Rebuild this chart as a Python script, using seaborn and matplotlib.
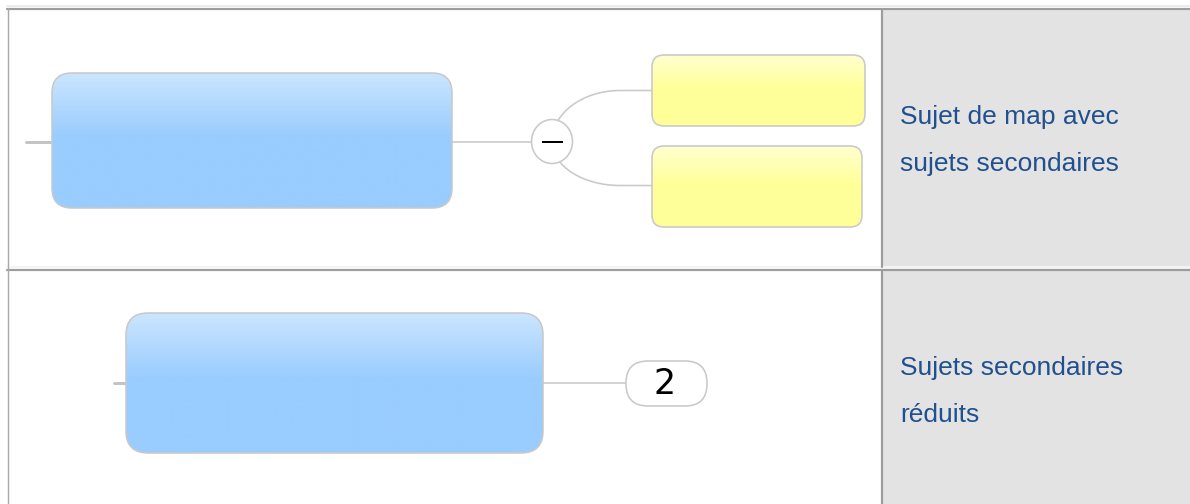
"""
Mind map legend: topic with sub-topics / collapsed sub-topics
"""

import numpy as np
import matplotlib
matplotlib.use("Agg")
import matplotlib.pyplot as plt
from matplotlib.patches import FancyBboxPatch, Ellipse, PathPatch
from matplotlib.path import Path
from matplotlib.colors import to_rgb
import seaborn as sns

# ---------------------------------------------------
# Content
# ---------------------------------------------------

row_labels = [
    ["Sujet de map avec", "sujets secondaires"],
    ["Sujets secondaires", "réduits"],
]

collapsed_count = "2"

# main topics (x0, y0, x1, y1, radius) in pixels
main_topics = [
    (52, 73, 452, 208, 20),
    (126, 313, 543, 453, 22),
]

# sub topics of the first row
sub_topics = [
    (652, 55, 865, 126, 12),
    (652, 146, 862, 227, 12),
]

# ---------------------------------------------------
# Style
# ---------------------------------------------------

W, H = 1190, 504
PX = 0.72  # one pixel in points at dpi 100

blue_top, blue_mid = "#cbe5fe", "#99ccff"
yellow_top, yellow_mid = "#ffffcf", "#ffff99"
edge_col = "#c9c9c9"
line_col = "#c9c9c9"
cell_grey = "#e3e3e3"
border_dark = "#9d9d9d"
border_light = "#ebebeb"
text_col = "#21508f"

sns.set_theme(style="white")
plt.rcParams["font.family"] = ["Liberation Sans", "DejaVu Sans"]

fig = plt.figure(figsize=(W / 100, H / 100), dpi=100)
ax = fig.add_axes([0, 0, 1, 1])
ax.set_xlim(0, W)
ax.set_ylim(H, 0)
ax.axis("off")


def gradient_box(x0, y0, x1, y1, r, top, mid, z=3):
    patch = FancyBboxPatch(
        (x0, y0), x1 - x0, y1 - y0,
        boxstyle=f"round,pad=0,rounding_size={r}",
        facecolor="none", edgecolor=edge_col,
        linewidth=1.6 * PX, zorder=z + 1
    )
    ax.add_patch(patch)
    n = 200
    t = np.clip(np.linspace(0, 1, n) / 0.47, 0, 1)[:, None]
    c0 = np.array(to_rgb(top))
    c1 = np.array(to_rgb(mid))
    img = (c0 * (1 - t) + c1 * t)[:, None, :]
    im = ax.imshow(
        img, extent=(x0, x1, y1, y0), origin="upper",
        aspect="auto", interpolation="bilinear", zorder=z
    )
    clip = FancyBboxPatch(
        (x0, y0), x1 - x0, y1 - y0,
        boxstyle=f"round,pad=0,rounding_size={r}",
        facecolor="none", edgecolor="none", transform=ax.transData
    )
    ax.add_patch(clip)
    im.set_clip_path(clip)


# ---------------------------------------------------
# Table
# ---------------------------------------------------

ax.add_patch(plt.Rectangle((883, 9), W - 883, 258, color=cell_grey, zorder=0))
ax.add_patch(plt.Rectangle((883, 270), W - 883, H - 270, color=cell_grey, zorder=0))

ax.plot([7, W], [6, 6], color=border_light, lw=2 * PX, zorder=1)
ax.plot([7, W], [9, 9], color=border_dark, lw=2.2 * PX, zorder=1)
ax.plot([7, W], [266.5, 266.5], color="#f4f4f4", lw=2 * PX, zorder=1)
ax.plot([7, W], [269.5, 269.5], color=border_dark, lw=2.2 * PX, zorder=1)
ax.plot([8, 8], [8, H], color="#a9a9a9", lw=1.4 * PX, zorder=1)
ax.plot([882, 882], [9, 267], color=border_dark, lw=2.2 * PX, zorder=1)
ax.plot([882, 882], [270, H], color=border_dark, lw=2.2 * PX, zorder=1)

# ---------------------------------------------------
# Row 1 : topic with sub topics
# ---------------------------------------------------

mx0, my0, mx1, my1, mr = main_topics[0]
cy = (my0 + my1) / 2 + 1
ax.plot([26, mx0], [cy, cy], color="#c4c4c4", lw=3 * PX, zorder=2)
gradient_box(mx0, my0, mx1, my1, mr, blue_top, blue_mid)

cx = 552
ax.plot([mx1, cx], [cy, cy], color=line_col, lw=1.6 * PX, zorder=2)

for sx0, sy0, sx1, sy1, sr in sub_topics:
    sy = (sy0 + sy1) / 2 + (0 if sy0 < 100 else -1)
    ex = 620
    k = 0.552
    verts = [
        (cx, cy),
        (cx, cy + k * (sy - cy)),
        (ex - k * (ex - cx), sy),
        (ex, sy),
        (sx0, sy),
    ]
    codes = [Path.MOVETO, Path.CURVE4, Path.CURVE4, Path.CURVE4, Path.LINETO]
    ax.add_patch(PathPatch(Path(verts, codes), facecolor="none",
                           edgecolor=line_col, lw=1.6 * PX, zorder=2))
    gradient_box(sx0, sy0, sx1, sy1, sr, yellow_top, yellow_mid)

ax.add_patch(Ellipse((cx, cy), 41, 44, facecolor="white",
                     edgecolor=edge_col, lw=1.6 * PX, zorder=5))
ax.plot([542, 563], [cy, cy], color="black", lw=2 * PX,
        solid_capstyle="butt", zorder=6)

# ---------------------------------------------------
# Row 2 : collapsed topic
# ---------------------------------------------------

mx0, my0, mx1, my1, mr = main_topics[1]
cy2 = 383
ax.plot([114, mx0], [cy2, cy2], color="#c4c4c4", lw=3 * PX, zorder=2)
gradient_box(mx0, my0, mx1, my1, mr, blue_top, blue_mid)
ax.plot([mx1, 626], [cy2, cy2], color=line_col, lw=1.6 * PX, zorder=2)

ax.add_patch(FancyBboxPatch(
    (626, 361), 81, 45,
    boxstyle="round,pad=0,rounding_size=22",
    facecolor="white", edgecolor=edge_col, lw=1.6 * PX, zorder=5
))
ax.text(665, 383.5, collapsed_count, ha="center", va="center",
        fontsize=25, color="black", family=["DejaVu Sans"], zorder=6)

# ---------------------------------------------------
# Descriptions
# ---------------------------------------------------

baselines = [(124, 171), (375.5, 422)]

for lines, ys in zip(row_labels, baselines):
    for line, y in zip(lines, ys):
        ax.text(900, y, line, ha="left", va="baseline",
                fontsize=19, color=text_col, zorder=6)

fig.savefig("out.png", dpi=100)
plt.close(fig)
